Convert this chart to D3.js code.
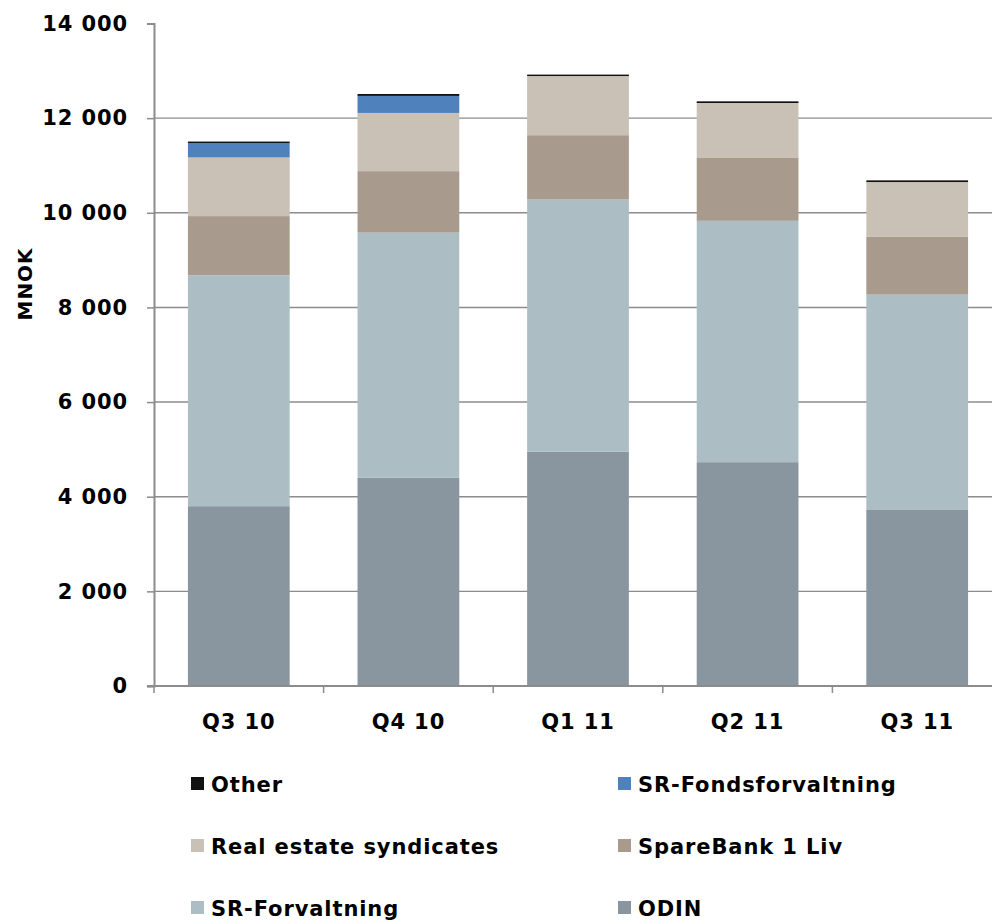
<!DOCTYPE html>
<html>
<head>
<meta charset="utf-8">
<script src="https://cdn.jsdelivr.net/npm/d3@7"></script>
<style>
  body { margin: 0; background: #fff; }
  text { font-family: "DejaVu Sans", Verdana, sans-serif; font-weight: bold; fill: #000; letter-spacing: 0.9px; }
</style>
</head>
<body>
<div id="chart"></div>
<script>
// quarters on the x axis
var quarters = ["Q3 10", "Q4 10", "Q1 11", "Q2 11", "Q3 11"];

// MNOK per series, bottom of the stack first
var odin        = [3800, 4400, 4950, 4730, 3720];
var srForv      = [4880, 5180, 5330, 5100, 4550];
var sb1Liv      = [1250, 1300, 1360, 1340, 1220];
var realEstate  = [1240, 1230, 1250, 1150, 1160];
var srFonds     = [300, 360, 0, 0, 0];
var other       = [35, 40, 30, 35, 35];

var seriesNames = ["ODIN", "SR-Forvaltning", "SpareBank 1 Liv", "Real estate syndicates", "SR-Fondsforvaltning", "Other"];
var seriesVals  = [odin, srForv, sb1Liv, realEstate, srFonds, other];
var seriesCols  = ["#8a969f", "#acbec4", "#a89b8d", "#c9c0b6", "#4f81bd", "#111111"];

var yTicks = [0, 2000, 4000, 6000, 8000, 10000, 12000, 14000];

var width = 992, height = 922;

var svg = d3.select("#chart").append("svg")
    .attr("width", width)
    .attr("height", height);

var rows = quarters.map(function (q, i) {
  var r = {q: q};
  seriesNames.forEach(function (s, j) { r[s] = seriesVals[j][i]; });
  return r;
});

var stack = d3.stack().keys(seriesNames);
var layers = stack(rows);

var x = d3.scaleBand().domain(quarters).range([154, 1002])
    .paddingInner(0.4).paddingOuter(0.2);
var y = d3.scaleLinear().domain([0, 14000]).range([686, 23.5]);
var color = d3.scaleOrdinal().domain(seriesNames).range(seriesCols);

// gridlines (no line at the top value)
svg.append("g")
  .selectAll("line")
  .data(yTicks.filter(function (t) { return t > 0 && t < 14000; }))
  .enter().append("line")
    .attr("x1", 154).attr("x2", width)
    .attr("y1", function (d) { return y(d); })
    .attr("y2", function (d) { return y(d); })
    .style("stroke", "#8c8c8c")
    .style("stroke-width", 1.4);

// bars
svg.append("g")
  .selectAll("g")
  .data(layers)
  .enter().append("g")
    .attr("fill", function (d) { return color(d.key); })
  .selectAll("rect")
  .data(function (d) { return d; })
  .enter().append("rect")
    .attr("x", function (d) { return x(d.data.q); })
    .attr("width", x.bandwidth())
    .attr("y", function (d) { return y(d[1]); })
    .attr("height", function (d) { return y(d[0]) - y(d[1]); });

// y axis
var yAxis = d3.axisLeft(y).tickValues(yTicks).tickSize(7).tickPadding(19)
    .tickFormat(function (d) { return d3.format(",")(d).replace(/,/g, " "); });
var gy = svg.append("g").attr("transform", "translate(154,0)").call(yAxis);
gy.select(".domain").style("stroke", "#8c8c8c").style("stroke-width", 2);
gy.selectAll(".tick line").style("stroke", "#8c8c8c").style("stroke-width", 1.5);
gy.selectAll(".tick text").style("font-size", "21px").style("font-family", null);

// x axis with ticks at the band edges
svg.append("line")
  .attr("x1", 147).attr("x2", width)
  .attr("y1", y(0)).attr("y2", y(0))
  .style("stroke", "#8c8c8c").style("stroke-width", 2);

var step = x.step();
svg.append("g")
  .selectAll("line")
  .data(d3.range(quarters.length + 1))
  .enter().append("line")
    .attr("x1", function (i) { return 154 + i * step; })
    .attr("x2", function (i) { return 154 + i * step; })
    .attr("y1", y(0)).attr("y2", y(0) + 7)
    .style("stroke", "#8c8c8c").style("stroke-width", 1.5);

svg.append("g")
  .selectAll("text")
  .data(quarters)
  .enter().append("text")
    .attr("x", function (d) { return x(d) + x.bandwidth() / 2; })
    .attr("y", 729)
    .attr("text-anchor", "middle")
    .style("font-size", "21px")
    .text(function (d) { return d; });

// y title
svg.append("text")
  .attr("transform", "translate(32,284) rotate(-90)")
  .attr("text-anchor", "middle")
  .style("font-size", "20px")
  .text("MNOK");

// legend, top of the stack first, two per row
var legendOrder = seriesNames.slice().reverse();
var legend = svg.append("g")
  .selectAll("g")
  .data(legendOrder)
  .enter().append("g")
    .attr("transform", function (d, i) {
      return "translate(" + (i % 2 === 0 ? 191 : 618) + "," + (784 + Math.floor(i / 2) * 62) + ")";
    });

legend.append("rect")
  .attr("x", 0).attr("y", -7)
  .attr("width", 13).attr("height", 13)
  .attr("fill", function (d) { return color(d); });

legend.append("text")
  .attr("x", 20).attr("y", 8)
  .style("font-size", "21px")
  .text(function (d) { return d; });
</script>
</body>
</html>
